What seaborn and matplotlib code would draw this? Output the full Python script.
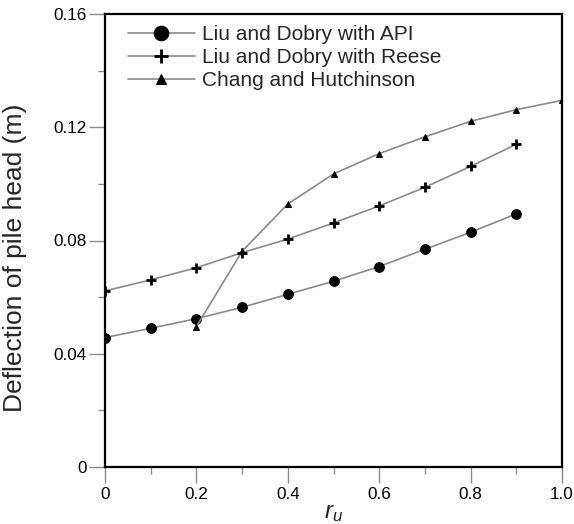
import numpy as np
import pandas as pd
import seaborn as sns
import matplotlib
matplotlib.use("Agg")
import matplotlib.pyplot as plt
from matplotlib.ticker import MultipleLocator, FixedLocator

# ---- data ----
ru_api = [0.0, 0.1, 0.2, 0.3, 0.4, 0.5, 0.6, 0.7, 0.8, 0.9]
defl_api = [0.0457, 0.0490, 0.0524, 0.0564, 0.0610, 0.0656, 0.0708, 0.0769, 0.0829, 0.0894]

ru_reese = [0.0, 0.1, 0.2, 0.3, 0.4, 0.5, 0.6, 0.7, 0.8, 0.9]
defl_reese = [0.0622, 0.0661, 0.0704, 0.0757, 0.0805, 0.0862, 0.0922, 0.0988, 0.1062, 0.1140]

ru_chang = [0.2, 0.3, 0.4, 0.5, 0.6, 0.7, 0.8, 0.9, 1.0]
defl_chang = [0.0496, 0.0762, 0.0929, 0.1035, 0.1107, 0.1166, 0.1221, 0.1262, 0.1295]

labels = ["Liu and Dobry with API", "Liu and Dobry with Reese", "Chang and Hutchinson"]
xticks = [0, 0.2, 0.4, 0.6, 0.8, 1.0]
xticklabels = ["0", "0.2", "0.4", "0.6", "0.8", "1.0"]
yticks = [0, 0.04, 0.08, 0.12, 0.16]
yticklabels = ["0", "0.04", "0.08", "0.12", "0.16"]

sns.set_style("white")
plt.rcParams['font.family'] = ['Liberation Sans', 'DejaVu Sans']
plt.rcParams['mathtext.fontset'] = 'custom'
plt.rcParams['mathtext.it'] = 'Liberation Sans:italic'
plt.rcParams['mathtext.rm'] = 'Liberation Sans'

fig = plt.figure(figsize=(5.74, 5.24), dpi=100)
ax = fig.add_axes([105/574, 1 - 467/524, (562-105)/574, (467-14)/524])

line_kw = dict(color="#8a8a8a", linewidth=1.2, markerfacecolor="black",
               markeredgecolor="black")

df_api = pd.DataFrame({"ru": ru_api, "d": defl_api})
df_reese = pd.DataFrame({"ru": ru_reese, "d": defl_reese})
df_chang = pd.DataFrame({"ru": ru_chang, "d": defl_chang})

sns.lineplot(data=df_api, x="ru", y="d", ax=ax, marker="o", markersize=7,
             label=labels[0], **line_kw)
sns.lineplot(data=df_reese, x="ru", y="d", ax=ax, marker="+", markersize=7,
             markeredgewidth=2, label=labels[1], **line_kw)
sns.lineplot(data=df_chang, x="ru", y="d", ax=ax, marker="^", markersize=5,
             label=labels[2], **line_kw)

ax.set_xlim(0, 1.0)
ax.set_ylim(0, 0.16)
ax.xaxis.set_major_locator(FixedLocator(xticks))
ax.set_xticklabels(xticklabels)
ax.yaxis.set_major_locator(FixedLocator(yticks))
ax.set_yticklabels(yticklabels)
ax.xaxis.set_minor_locator(MultipleLocator(0.1))
ax.yaxis.set_minor_locator(MultipleLocator(0.02))

ax.tick_params(which="major", direction="out", length=11.5, width=1,
               color="#8a8a8a", labelsize=12.3, pad=1.5, labelcolor="black")
ax.tick_params(which="minor", direction="out", length=5, width=1,
               color="#8a8a8a")
ax.tick_params(axis="x", which="major", pad=3)
ax.tick_params(left=True, bottom=True, which="both")

for s in ax.spines.values():
    s.set_color("black")
    s.set_linewidth(1.6)
    s.set_visible(True)

ax.set_xlabel(r"$r_u$", fontsize=17.5, labelpad=0)
ax.set_ylabel("Deflection of pile head (m)", fontsize=19)
ax.yaxis.set_label_coords(-0.17, 0.462)

leg = ax.legend(loc="upper left", bbox_to_anchor=(0.05, 0.975), frameon=False,
                fontsize=15, handlelength=3.2, handletextpad=0.38,
                labelspacing=0.19, borderpad=0, borderaxespad=0,
                markerscale=1.5)

fig.savefig("out.png", dpi=100)
